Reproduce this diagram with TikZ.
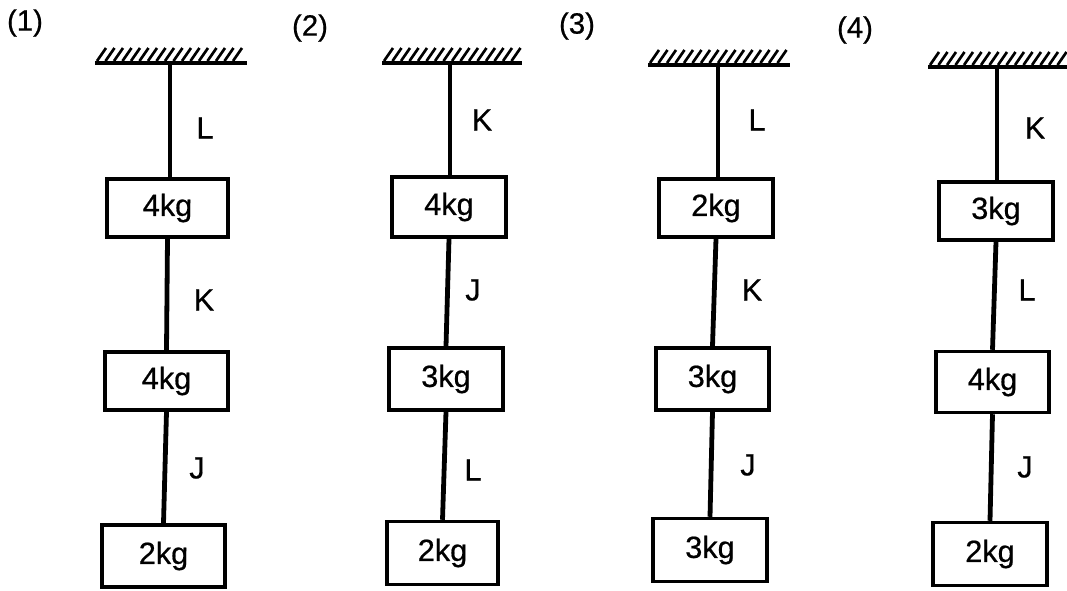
\documentclass[tikz,border=0pt]{standalone}
\usepackage{fontspec}
\setmainfont{Liberation Sans}[FakeBold=0.6]
\begin{document}
\begin{tikzpicture}[x=0.75pt,y=-0.75pt,
  mass/.style={draw, line width=2.6pt, inner sep=0pt, font=\fontsize{23}{27}\selectfont},
  msize/.style 2 args={minimum width=#1*0.75pt, minimum height=#2*0.75pt},
  rod/.style={line width=3.6pt},
  ceil/.style={line width=2.6pt},
  hatch/.style={line width=2pt},
  lbl/.style={font=\fontsize{23}{27}\selectfont, inner sep=0pt},
  num/.style={font=\fontsize{22}{26}\selectfont, inner sep=0pt}]
\useasboundingbox (0,0) rectangle (1067,590);

% panel numbers
\node[num] (n1) at (25,23) {(1)};
\node[num] (n2) at (310,28) {(2)};
\node[num] (n3) at (577,26) {(3)};
\node[num] (n4) at (855,30) {(4)};

% ceilings
\draw[ceil] (95,63) -- (247,63);
\foreach \x in {97,105.5,...,238} \draw[hatch] (\x,61) -- ++(9,-13);
\coordinate (c1) at (170,63);
\draw[ceil] (382,63) -- (522,63);
\foreach \x in {384,392.5,...,513} \draw[hatch] (\x,61) -- ++(9,-13);
\coordinate (c2) at (450,63);
\draw[ceil] (648,65) -- (790,65);
\foreach \x in {650,658.5,...,781} \draw[hatch] (\x,63) -- ++(9,-13);
\coordinate (c3) at (718,65);
\draw[ceil] (928,67) -- (1067,67);
\foreach \x in {930,938.5,...,1058} \draw[hatch] (\x,65) -- ++(9,-13);
\coordinate (c4) at (997,67);

% panel 1
\node[mass, msize={121}{58}] (p1a) at (167.5,208) {4kg};
\node[mass, msize={123}{58}] (p1b) at (166.5,381) {4kg};
\node[mass, msize={123}{62}] (p1c) at (163.5,556) {2kg};
\draw[rod] (c1) -- (c1 |- p1a.north);
\draw[rod] (p1a.south) -- (p1b.north);
\draw[rod] (p1b.south) -- (p1c.north);
\node[lbl] (l1a) at (205,128) {L};
\node[lbl] (l1b) at (204,300) {K};
\node[lbl] (l1c) at (197,468) {J};

% panel 2
\node[mass, msize={114}{60}] (p2a) at (449,207) {4kg};
\node[mass, msize={114}{62}] (p2b) at (446,379) {3kg};
\node[mass, msize={111}{63}] (p2c) at (442.5,553) {2kg};
\draw[rod] (c2) -- (c2 |- p2a.north);
\draw[rod] (p2a.south) -- (p2b.north);
\draw[rod] (p2b.south) -- (p2c.north);
\node[lbl] (l2a) at (482,120) {K};
\node[lbl] (l2b) at (473,290) {J};
\node[lbl] (l2c) at (473,470) {L};

% panel 3
\node[mass, msize={114}{58}] (p3a) at (716,208) {2kg};
\node[mass, msize={113}{62}] (p3b) at (712.5,379) {3kg};
\node[mass, msize={114}{63}] (p3c) at (710,550) {3kg};
\draw[rod] (c3) -- (c3 |- p3a.north);
\draw[rod] (p3a.south) -- (p3b.north);
\draw[rod] (p3b.south) -- (p3c.north);
\node[lbl] (l3a) at (757,120) {L};
\node[lbl] (l3b) at (752,290) {K};
\node[lbl] (l3c) at (748,465) {J};

% panel 4
\node[mass, msize={114}{58}] (p4a) at (996,211) {3kg};
\node[mass, msize={113}{61}] (p4b) at (992.5,382) {4kg};
\node[mass, msize={114}{63}] (p4c) at (990,554) {2kg};
\draw[rod] (c4) -- (c4 |- p4a.north);
\draw[rod] (p4a.south) -- (p4b.north);
\draw[rod] (p4b.south) -- (p4c.north);
\node[lbl] (l4a) at (1035,128) {K};
\node[lbl] (l4b) at (1027,290) {L};
\node[lbl] (l4c) at (1025,467) {J};
\end{tikzpicture}
\end{document}
